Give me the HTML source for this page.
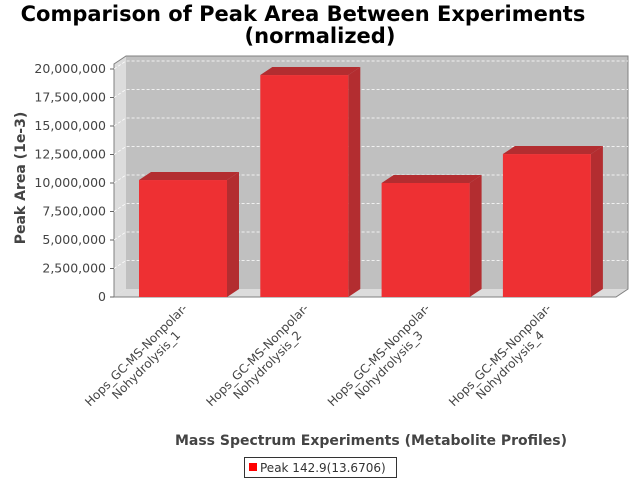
<!DOCTYPE html>
<html><head><meta charset="utf-8"><style>
body{margin:0;background:#fff}
svg{display:block;font-family:"DejaVu Sans","Liberation Sans",sans-serif}
</style></head><body>
<svg width="640" height="480">
<text x="303" y="21" text-anchor="middle" font-size="21" font-weight="bold">Comparison of Peak Area Between Experiments</text>
<text x="320" y="43" text-anchor="middle" font-size="21" font-weight="bold">(normalized)</text>
<g id="plot"></g>
<text transform="translate(25,178) rotate(-90)" text-anchor="middle" font-size="14" font-weight="bold" fill="#444">Peak Area (1e-3)</text>
<text x="371" y="445" text-anchor="middle" font-size="14" font-weight="bold" fill="#444">Mass Spectrum Experiments (Metabolite Profiles)</text>
<g>
<rect x="244.5" y="457.5" width="152" height="20" fill="#fff" stroke="#333"/>
<rect x="249" y="463" width="8" height="8" fill="#f00"/>
<text x="260" y="472" font-size="12" fill="#333">Peak 142.9(13.6706)</text>
</g>
</svg>
<script>
const categories=["Hops_GC-MS-Nonpolar-|Nohydrolysis_1","Hops_GC-MS-Nonpolar-|Nohydrolysis_2","Hops_GC-MS-Nonpolar-|Nohydrolysis_3","Hops_GC-MS-Nonpolar-|Nohydrolysis_4"];
const values=[10260000,19470000,10000000,12540000];
const ticks=[0,2500000,5000000,7500000,10000000,12500000,15000000,17500000,20000000];
const NS="http://www.w3.org/2000/svg";
const g=document.getElementById('plot');
const L=114,R=616,B=297,DX=12,DY=8,TOP=56;
function y(v){return B-v/20000000*228;}
function mk(t,a){const e=document.createElementNS(NS,t);for(const k in a)e.setAttribute(k,a[k]);g.appendChild(e);return e;}
let w=mk('polygon',{points:`${L},${B} ${L},${y(20000000)-5} ${L+DX},${TOP} ${L+DX},${B-DY}`,fill:'#dcdcdc'});


w=mk('polygon',{points:`${L},${B} ${L+DX},${B-DY} ${R+DX},${B-DY} ${R},${B}`,fill:'#dcdcdc'});


w=mk('rect',{x:L+DX,y:TOP,width:R-L,height:B-DY-TOP,fill:'#c0c0c0'});


mk('polyline',{points:`${L},${B} ${L},${y(20000000)-5} ${L+DX},${TOP} ${R+DX},${TOP} ${R+DX},${B-DY} ${R},${B} ${L},${B}`,fill:'none',stroke:'#808080','stroke-width':1});
ticks.forEach(t=>{
  const yy=y(t);
  if(t>0){const gl=mk('polyline',{points:`${L},${yy} ${L+DX},${yy-DY} ${R+DX},${yy-DY}`,fill:'none',stroke:'#fff','stroke-dasharray':'3,2','stroke-width':0.8});
  
  }
  mk('line',{x1:L-4,x2:L,y1:yy,y2:yy,stroke:'#666'});
  const tx=mk('text',{x:L-8,y:yy+4,'text-anchor':'end','font-size':12.5,fill:'#444'});
  tx.textContent=t.toLocaleString('en-US');
  
  
});
const bw=88,x0=139,step=121.3;
values.forEach((v,i)=>{
  const x=x0+i*step,yt=y(v);
  const s=mk('polygon',{points:`${x+bw},${B} ${x+bw},${yt} ${x+bw+DX},${yt-DY} ${x+bw+DX},${B-DY}`,fill:'#b32d30'});
  
  
  const t=mk('polygon',{points:`${x},${yt} ${x+DX},${yt-DY} ${x+bw+DX},${yt-DY} ${x+bw},${yt}`,fill:'#b32d30'});
  
  
  const f=mk('rect',{x:x,y:yt,width:bw,height:B-yt,fill:'#ee3033'});
  
  
  const lines=categories[i].split('|');
  const cx=x,cy=358;
  lines.forEach((ln,j)=>{
    const tx=mk('text',{transform:`translate(${cx+j*10},${cy+j*10}) rotate(-45)`,'text-anchor':'middle','font-size':12,fill:'#444'});
    tx.textContent=ln;
    
    
  });
});
</script>
</body></html>
